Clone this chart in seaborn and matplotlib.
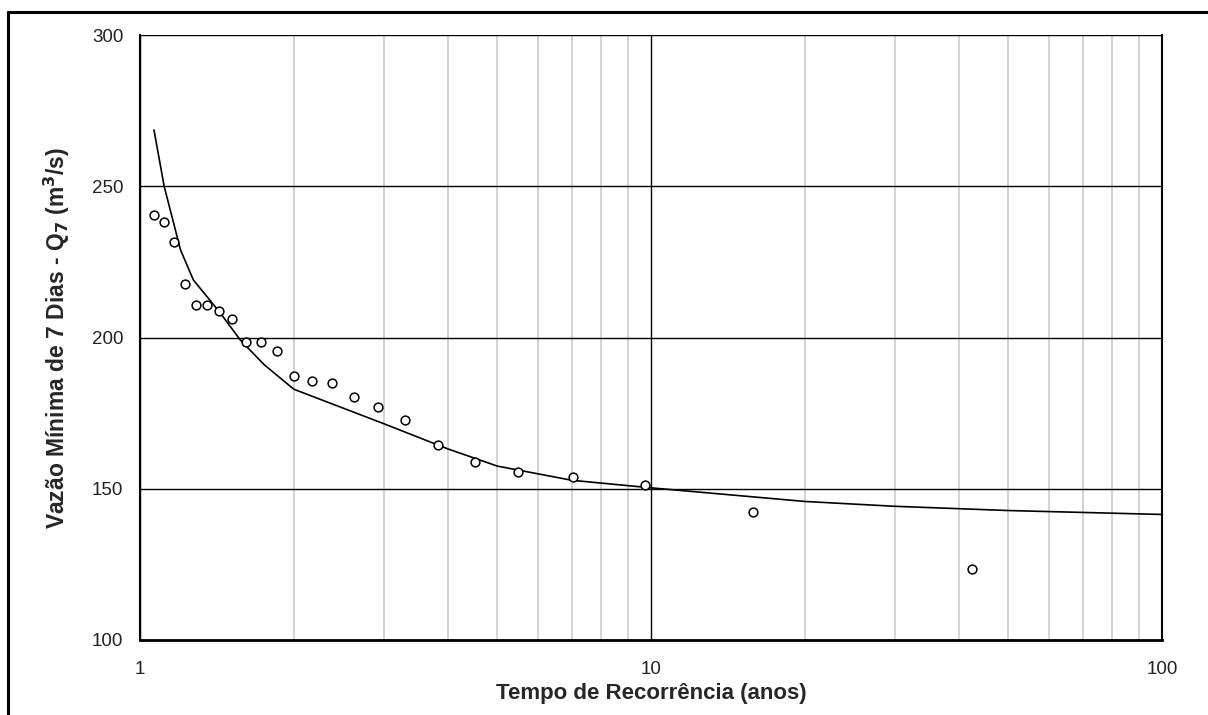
import matplotlib
matplotlib.use("Agg")
import matplotlib.pyplot as plt
from matplotlib.lines import Line2D
from matplotlib.ticker import FixedLocator, NullFormatter
import seaborn as sns
import pandas as pd

# Observed data (return period in years, 7-day minimum flow m3/s)
obs_T = [1.065, 1.115, 1.166, 1.225, 1.288, 1.353, 1.429, 1.515, 1.614, 1.727,
         1.856, 2.004, 2.174, 2.379, 2.628, 2.928, 3.308, 3.823, 4.518, 5.485,
         7.03, 9.73, 15.85, 42.4]
obs_Q = [240.5, 238.2, 231.6, 217.7, 210.7, 210.7, 208.8, 206.1, 198.5, 198.5,
         195.5, 187.3, 185.6, 185.0, 180.3, 177.0, 172.7, 164.5, 158.8, 155.5,
         153.9, 151.2, 142.3, 123.5]

# Fitted curve
fit_T = [1.065, 1.115, 1.2, 1.272, 1.43, 1.571, 1.75, 2.0, 3.0, 4.0, 5.0, 7.0,
         10.0, 20.0, 30.0, 50.0, 100.0]
fit_Q = [268.6, 250.0, 229.0, 219.0, 208.5, 199.2, 191.0, 182.9, 171.5, 163.2,
         157.5, 152.8, 150.3, 145.8, 144.2, 142.8, 141.5]

x_ticks = [1, 10, 100]
y_ticks = [100, 150, 200, 250, 300]

sns.set_theme(style="white")
plt.rcParams['font.family'] = ['Liberation Sans', 'DejaVu Sans']

fig = plt.figure(figsize=(12.08, 7.15), dpi=100)
ax = fig.add_axes([140/1208, 1-640/715, (1162-140)/1208, (640-35)/715])

obs = pd.DataFrame({"T": obs_T, "Q": obs_Q})
fit = pd.DataFrame({"T": fit_T, "Q": fit_Q})

sns.lineplot(data=fit, x="T", y="Q", ax=ax, color="black", lw=1.2,
             sort=False, estimator=None, zorder=4)
sns.scatterplot(data=obs, x="T", y="Q", ax=ax, marker="o", s=40,
                facecolor="white", edgecolor="black", linewidth=1.1, zorder=5)

ax.set_xscale("log")
ax.set_xlim(1, 100)
ax.set_ylim(100, 300)

ax.xaxis.set_major_locator(FixedLocator(x_ticks))
ax.set_xticklabels([str(t) for t in x_ticks])
minor = [m * d for d in (1, 10) for m in range(2, 10)]
ax.xaxis.set_minor_locator(FixedLocator(minor))
ax.xaxis.set_minor_formatter(NullFormatter())
ax.set_yticks(y_ticks)

ax.grid(True, which="minor", axis="x", color="#cccccc", lw=1.2, zorder=0)
ax.grid(True, which="major", axis="x", color="black", lw=1.0, zorder=1)
ax.grid(True, which="major", axis="y", color="black", lw=1.0, zorder=1)
ax.set_axisbelow(True)

for side in ("left", "bottom", "right"):
    ax.spines[side].set_visible(True)
    ax.spines[side].set_color("black")
ax.spines["left"].set_linewidth(1.5)
ax.spines["bottom"].set_linewidth(2.0)
ax.spines["right"].set_linewidth(1.5)
ax.spines["top"].set_visible(False)

ax.tick_params(axis="both", which="major", direction="out", length=6,
               width=1.0, color="black", labelsize=13.5, labelcolor="#222222")
ax.tick_params(axis="x", which="minor", length=0)
ax.tick_params(axis="x", which="major", pad=9)
ax.tick_params(axis="y", which="major", pad=6)

ax.set_xlabel("Tempo de Recorrência (anos)", fontsize=16, fontweight="bold",
              labelpad=4)
ax.set_ylabel("Vazão Mínima de 7 Dias - Q$_\\mathbf{7}$ (m$^\\mathbf{3}$/s)",
              fontsize=16.5, fontweight="bold", labelpad=14)

# outer frame
fig.add_artist(Line2D([8/1208, 1.0], [1-12/715, 1-12/715],
                      transform=fig.transFigure, color="black", lw=2.2))
fig.add_artist(Line2D([8/1208, 8/1208], [0.0, 1-12/715],
                      transform=fig.transFigure, color="black", lw=2.2))

fig.savefig("out.png", dpi=100)
